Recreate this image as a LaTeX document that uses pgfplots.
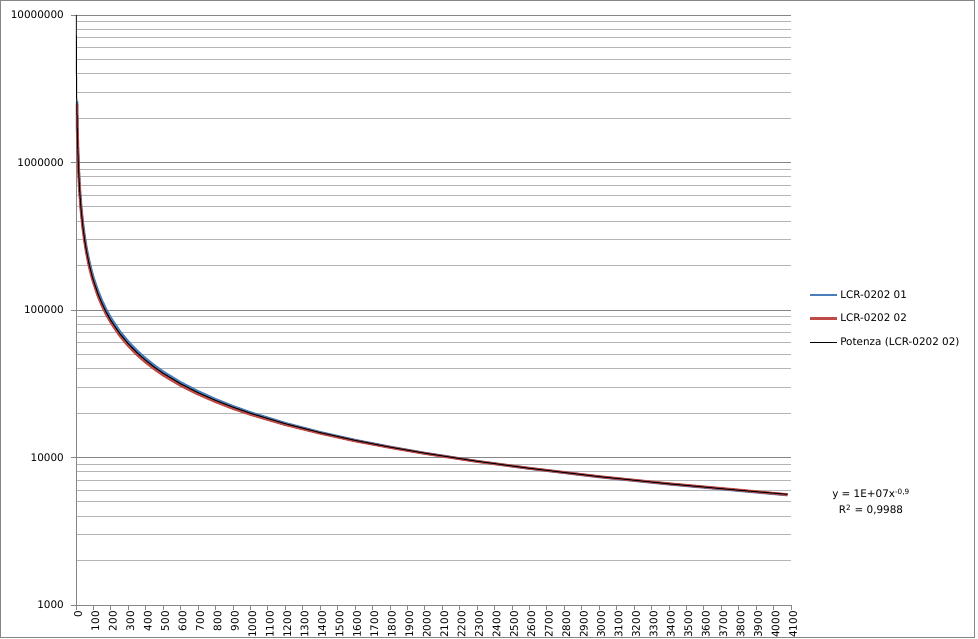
\documentclass[border=0pt]{standalone}
\usepackage{fontspec}
\setmainfont{DejaVu Sans}
\usepackage{pgfplots}
\pgfplotsset{compat=1.18}
\definecolor{xlblue}{HTML}{4A7EBB}
\definecolor{xlred}{HTML}{BE4B48}
\definecolor{axgray}{HTML}{868686}
\definecolor{mingray}{HTML}{B4B4B4}
\begin{document}
\begin{tikzpicture}
\useasboundingbox (-76pt,-34pt) rectangle (902pt,605pt);
\draw[axgray, line width=0.8pt] (-75.5pt,-32.5pt) rectangle (898.5pt,604.5pt);
\begin{axis}[
  at={(0pt,0pt)}, anchor=south west,
  scale only axis, width=715pt, height=590pt,
  ymode=log, log basis y=10,
  xmin=0, xmax=4100, ymin=1000, ymax=10000000,
  axis x line=bottom, axis y line=left,
  every outer x axis line/.append style={-},
  every outer y axis line/.append style={-},
  axis line style={axgray, line width=0.8pt},
  xtick={0,100,...,4100},
  xticklabels={0,100,200,300,400,500,600,700,800,900,1000,1100,1200,1300,1400,1500,1600,1700,1800,1900,2000,2100,2200,2300,2400,2500,2600,2700,2800,2900,3000,3100,3200,3300,3400,3500,3600,3700,3800,3900,4000,4100},
  ytick={1000,10000,100000,1000000,10000000},
  yticklabels={1000,10000,100000,1000000,10000000},
  minor ytick={2000,3000,4000,5000,6000,7000,8000,9000,
    20000,30000,40000,50000,60000,70000,80000,90000,
    200000,300000,400000,500000,600000,700000,800000,900000,
    2000000,3000000,4000000,5000000,6000000,7000000,8000000,9000000},
  tick align=outside, major tick length=5pt, minor tick length=0pt,
  tick style={axgray, line width=0.8pt},
  ymajorgrids, yminorgrids,
  major grid style={axgray, line width=0.8pt},
  minor grid style={mingray, line width=0.8pt},
  ticklabel style={font=\fontsize{10.4}{12}\selectfont},
  xticklabel style={rotate=90, anchor=east, inner sep=1pt, yshift=-2pt},
  yticklabel style={inner sep=1pt, xshift=-6pt},
  clip=true,
  legend style={at={(1.02,0.485)}, anchor=west, draw=none, fill=none,
    font=\fontsize{10.4}{12}\selectfont, row sep=10.5pt},
  legend cell align=left,
  legend image code/.code={\draw[#1] (0pt,0pt) -- (27pt,0pt);},
]
\addplot[xlblue, line width=2.8pt, line join=round] coordinates {
(5,2600000) (7,1850000) (10,1320000) (15,910000) (20,700000) (25,575000)
(30,488000) (40,376000) (50,308000) (60,261000) (75,213500) (90,181000)
(100,164500) (125,134500) (150,114000) (175,99200) (200,87800) (250,71600)
(300,60700) (350,52700) (400,46700) (450,41900) (500,38000) (600,32200)
(700,28000) (800,24750) (900,22200) (1000,20150) (1200,17050) (1400,14800)
(1600,13100) (1800,11780) (2000,10700) (2300,9420) (2600,8430) (3000,7390)
(3400,6600) (3800,5970) (4080,5570)
};
\addlegendentry{LCR-0202 01}
\addplot[xlred, line width=2.8pt, line join=round] coordinates {
(5,2500000) (7,1780000) (10,1250000) (15,860000) (20,660000) (25,540000)
(30,458000) (40,352000) (50,288000) (60,244000) (75,199000) (90,169000)
(100,154000) (125,125700) (150,106700) (175,92900) (200,82400) (250,67400)
(300,57200) (350,49800) (400,44200) (450,39800) (500,36200) (600,30800)
(700,26900) (800,23900) (900,21500) (1000,19600) (1200,16700) (1400,14600)
(1600,12950) (1800,11700) (2000,10650) (2300,9400) (2600,8450) (3000,7420)
(3400,6640) (3800,6020) (4080,5600)
};
\addlegendentry{LCR-0202 02}
\addplot[black, line width=1pt, line join=round] coordinates {
(1,10000000) (1.5,6943000) (2,5360000) (3,3720000) (4,2872000) (5,2349000)
(7,1735000) (10,1259000) (15,873900) (20,674600) (25,552000) (30,468400)
(40,361500) (50,295800) (60,251000) (75,205300) (90,174300) (100,158500)
(125,129600) (150,110000) (175,95780) (200,84940) (250,69460) (300,59000)
(350,51340) (400,45520) (450,40920) (500,37220) (600,31590) (700,27500)
(800,24390) (900,21940) (1000,19950) (1200,16940) (1400,14750) (1600,13070)
(1800,11760) (2000,10700) (2300,9430) (2600,8450) (3000,7420) (3400,6630)
(3800,6000) (4080,5630)
};
\addlegendentry{Potenza (LCR-0202 02)}
\end{axis}
\node[font=\fontsize{10.4}{12}\selectfont, align=center, inner sep=0pt] at (795pt,103pt)
  {y = 1E+07x\textsuperscript{-0,9}\\[4pt] R\textsuperscript{2} = 0,9988};
\end{tikzpicture}
\end{document}
